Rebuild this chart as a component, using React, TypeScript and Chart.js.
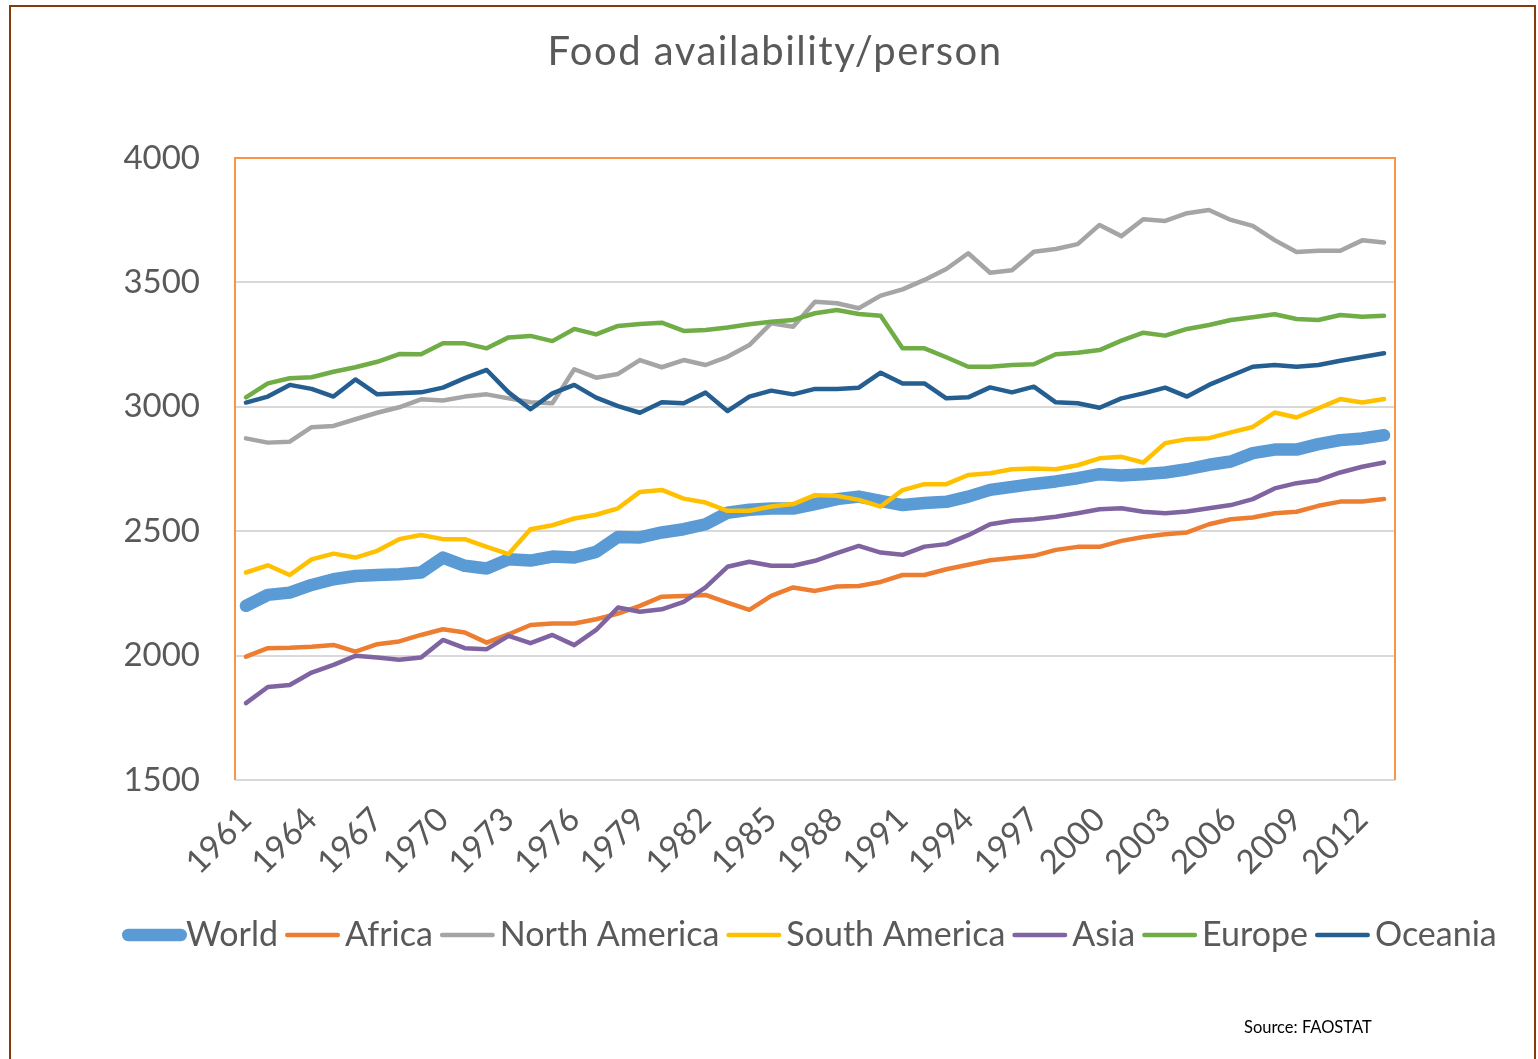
import React, { useEffect, useRef } from "react";
import { Chart, registerables } from "chart.js";

Chart.register(...registerables);

const years = [
  "1961", "1962", "1963", "1964", "1965", "1966", "1967", "1968", "1969", "1970",
  "1971", "1972", "1973", "1974", "1975", "1976", "1977", "1978", "1979", "1980",
  "1981", "1982", "1983", "1984", "1985", "1986", "1987", "1988", "1989", "1990",
  "1991", "1992", "1993", "1994", "1995", "1996", "1997", "1998", "1999", "2000",
  "2001", "2002", "2003", "2004", "2005", "2006", "2007", "2008", "2009", "2010",
  "2011", "2012", "2013",
];

const world = [
  2200, 2244, 2253, 2284, 2307, 2320, 2324, 2327, 2334, 2394, 2361, 2350, 2387, 2382, 2398, 2394, 2417, 2477,
  2475, 2495, 2508, 2528, 2574, 2586, 2591, 2591, 2609, 2629, 2639, 2622, 2605, 2613, 2618, 2639, 2666, 2678,
  2690, 2700, 2713, 2729, 2724, 2729, 2736, 2749, 2767, 2780, 2814, 2828, 2828, 2850, 2866, 2873, 2886,
];
const africa = [
  1996, 2030, 2032, 2036, 2043, 2016, 2046, 2057, 2083, 2106, 2093, 2052, 2086, 2123, 2129, 2129, 2146, 2169,
  2200, 2237, 2240, 2244, 2213, 2184, 2240, 2274, 2260, 2278, 2280, 2296, 2324, 2324, 2347, 2365, 2383, 2392,
  2401, 2425, 2437, 2437, 2461, 2477, 2488, 2495, 2528, 2548, 2555, 2572, 2578, 2602, 2619, 2619, 2629,
];
const northAmerica = [
  2873, 2856, 2860, 2918, 2923, 2950, 2976, 2998, 3030, 3025, 3041, 3050, 3034, 3018, 3014, 3151, 3117, 3132,
  3188, 3159, 3188, 3168, 3201, 3248, 3336, 3322, 3422, 3416, 3396, 3447, 3472, 3510, 3554, 3617, 3539, 3549,
  3623, 3634, 3654, 3731, 3686, 3754, 3747, 3778, 3791, 3751, 3727, 3670, 3622, 3627, 3627, 3669, 3660,
];
const southAmerica = [
  2334, 2363, 2324, 2387, 2410, 2394, 2421, 2468, 2485, 2468, 2468, 2437, 2408, 2508, 2524, 2551, 2566, 2592,
  2658, 2666, 2631, 2615, 2582, 2582, 2599, 2609, 2645, 2642, 2626, 2599, 2665, 2689, 2689, 2726, 2733, 2749,
  2752, 2749, 2765, 2793, 2799, 2776, 2854, 2870, 2874, 2897, 2919, 2977, 2957, 2994, 3031, 3017, 3031,
];
const asia = [
  1809, 1874, 1882, 1932, 1963, 1999, 1992, 1983, 1992, 2063, 2030, 2026, 2079, 2050, 2083, 2042, 2103, 2193,
  2176, 2186, 2216, 2274, 2357, 2377, 2361, 2361, 2381, 2412, 2441, 2414, 2405, 2438, 2448, 2484, 2528, 2542,
  2548, 2558, 2572, 2588, 2592, 2578, 2572, 2579, 2592, 2605, 2629, 2672, 2693, 2705, 2736, 2759, 2776,
];
const europe = [
  3038, 3094, 3115, 3119, 3141, 3159, 3181, 3212, 3211, 3255, 3255, 3235, 3279, 3285, 3264, 3313, 3291, 3325,
  3333, 3338, 3305, 3309, 3319, 3332, 3342, 3349, 3376, 3389, 3373, 3366, 3235, 3235, 3199, 3161, 3161, 3168,
  3171, 3211, 3217, 3228, 3266, 3298, 3286, 3313, 3329, 3349, 3360, 3372, 3353, 3349, 3369, 3362, 3366,
];
const oceania = [
  3017, 3041, 3088, 3072, 3041, 3110, 3050, 3054, 3058, 3077, 3115, 3148, 3058, 2990, 3054, 3088, 3037, 3003,
  2976, 3018, 3014, 3057, 2983, 3041, 3065, 3050, 3072, 3072, 3077, 3137, 3094, 3094, 3034, 3038, 3078, 3058,
  3081, 3018, 3014, 2996, 3034, 3054, 3077, 3041, 3088, 3125, 3161, 3168, 3161, 3168, 3185, 3200, 3215,
];

const seriesNames = ["World", "Africa", "North America", "South America", "Asia", "Europe", "Oceania"];
const seriesColors = ["#5B9BD5", "#ED7D31", "#A5A5A5", "#FFC000", "#8064A2", "#70AD47", "#255E91"];
const seriesWidths = [12.5, 4.5, 4.5, 4.5, 4.5, 4.5, 4.5];
const seriesData = [world, africa, northAmerica, southAmerica, asia, europe, oceania];

const chartTitle = "Food availability/person";
const sourceNote = "Source: FAOSTAT";

const TEXT = "#595959";
const FONT = "Lato, 'Open Sans', sans-serif";

const decorPlugin = {
  id: "decor",
  beforeDatasetsDraw(chart: any) {
    const { ctx, chartArea } = chart;
    const { left, top, right, bottom } = chartArea;
    ctx.save();
    ctx.strokeStyle = "#F79646";
    ctx.lineWidth = 2;
    ctx.beginPath();
    ctx.moveTo(left, bottom);
    ctx.lineTo(left, top);
    ctx.lineTo(right, top);
    ctx.lineTo(right, bottom);
    ctx.stroke();
    ctx.restore();
  },
  afterDraw(chart: any) {
    const { ctx } = chart;
    ctx.save();
    // title
    ctx.font = `40px ${FONT}`;
    ctx.fillStyle = TEXT;
    ctx.textAlign = "center";
    ctx.textBaseline = "alphabetic";
    try {
      (ctx as any).letterSpacing = "1.5px";
    } catch (e) {}
    ctx.fillText(chartTitle, 775, 65);
    try {
      (ctx as any).letterSpacing = "0px";
    } catch (e) {}

    // custom legend
    ctx.font = `34px ${FONT}`;
    ctx.textBaseline = "middle";
    ctx.textAlign = "left";
    const y = 935;
    let x = 122;
    chart.data.datasets.forEach((ds: any, i: number) => {
      const w = ds.borderWidth;
      const sw = i === 0 ? 65 : 55;
      ctx.strokeStyle = ds.borderColor;
      ctx.lineWidth = w;
      ctx.lineCap = "round";
      ctx.beginPath();
      ctx.moveTo(x + w / 2, y);
      ctx.lineTo(x + sw - w / 2, y);
      ctx.stroke();
      x += sw + (i === 0 ? -1 : 5);
      ctx.fillStyle = TEXT;
      ctx.fillText(ds.label, x, y);
      x += ctx.measureText(ds.label).width + 7;
    });
    // source note
    ctx.font = `16.5px ${FONT}`;
    ctx.fillStyle = "#000000";
    ctx.fillText(sourceNote, 1244, 1028);
    ctx.restore();
  },
};

export default function App() {
  const ref = useRef<HTMLCanvasElement | null>(null);

  useEffect(() => {
    if (!ref.current) return;
    const datasets = seriesNames.map((name, i) => ({
      label: name,
      data: seriesData[i],
      borderColor: seriesColors[i],
      backgroundColor: seriesColors[i],
      borderWidth: seriesWidths[i],
      pointRadius: 0,
      pointHoverRadius: 0,
      tension: 0,
      fill: false,
      borderJoinStyle: "round" as const,
      borderCapStyle: "round" as const,
      order: seriesNames.length - i,
    }));
    const chart = new Chart(ref.current, {
      type: "line",
      data: { labels: years, datasets },
      options: {
        responsive: false,
        animation: false,
        devicePixelRatio: 1,
        layout: { padding: { left: 100, right: 143, top: 158, bottom: 0 } },
        plugins: {
          legend: { display: false },
          tooltip: { enabled: false },
          title: { display: false },
        },
        scales: {
          x: {
            type: "category",
            offset: true,
            grid: { display: false },
            border: { display: false },
            ticks: {
              autoSkip: false,
              maxRotation: 45,
              minRotation: 45,
              color: TEXT,
              padding: 12,
              font: { family: FONT, size: 33 },
              callback: (_v: any, i: number) => (i % 3 === 0 ? years[i] : ""),
            },
            afterFit: (s: any) => {
              s.height = 279;
            },
          },
          y: {
            min: 1500,
            max: 4000,
            ticks: {
              stepSize: 500,
              color: TEXT,
              padding: 35,
              font: { family: FONT, size: 33 },
              callback: (v: any) => String(v),
            },
            grid: { color: "#D9D9D9", lineWidth: 2, drawTicks: false },
            border: { display: false },
            afterFit: (s: any) => {
              s.width = 135;
            },
          },
        },
      },
      plugins: [decorPlugin],
    });
    return () => chart.destroy();
  }, []);

  return (
    <div>
      <canvas
        ref={ref}
        width={1538}
        height={1059}
        style={{ position: "fixed", left: 0, top: 0, width: 1538, height: 1059 }}
      />
      <div
        style={{
          position: "fixed",
          left: 9,
          top: 5,
          width: 1523,
          height: 1052,
          borderTop: "2px solid #843C0C",
          borderLeft: "2px solid #843C0C",
          borderRight: "2px solid #843C0C",
          pointerEvents: "none",
        }}
      />
    </div>
  );
}
